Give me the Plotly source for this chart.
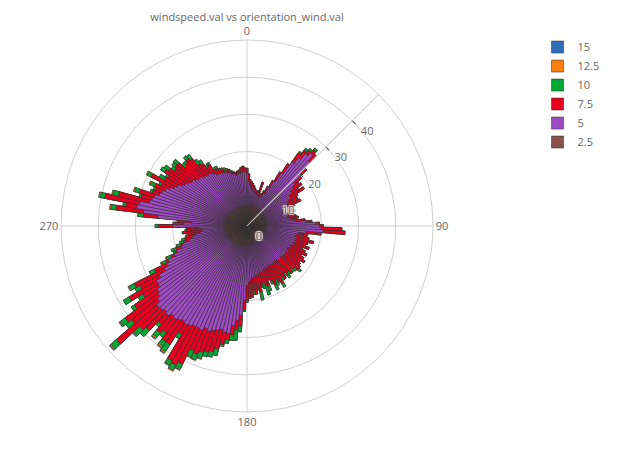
import plotly.graph_objects as go

# direction bins (degrees, 2-degree bins)
direction = list(range(0, 360, 2))

speed_labels = ["15", "12.5", "10", "7.5", "5", "2.5"]
speed_colors = ["#2f6db8", "#ff7f0e", "#00a836", "#e6001f", "#9d4cc4", "#8b5049"]

# cumulative frequency up to each speed class
cum_2_5 = [5.2,4.8,5.5,4.6,5.0,5.8,4.9,5.3,6.0,5.1, 4.7,5.4,5.9,5.0,4.6,5.2,5.7,4.9,5.3,4.8,
           5.1,5.6,4.7,5.0,5.3,4.5,4.9,5.2,4.6,5.0, 5.4,4.8,4.4,5.1,4.7,5.3,4.9,4.5,5.0,4.6,
           5.2,4.8,4.3,4.9,5.4,
           5.0,4.6,5.3,4.4,4.9,5.2,4.5,4.8,5.1,4.3, 4.7,5.0,4.4,4.9,5.3,4.6,4.2,4.8,5.1,4.5,
           4.9,4.3,4.7,5.0,4.4,4.8,5.2,4.6,4.3,4.9, 4.5,5.0,4.7,4.4,4.8,5.1,4.6,4.3,4.9,4.5,
           4.7,5.0,4.4,4.8,4.6,
           4.7,5.1,4.5,4.9,5.4,4.8,5.2,5.6,4.9,5.3, 5.7,5.0,5.4,5.9,5.2,5.6,6.0,5.3,5.7,5.1,
           5.5,6.1,5.4,5.8,5.2,5.6,6.2,5.5,5.9,5.3, 5.7,6.0,5.4,5.8,6.3,5.6,5.9,5.2,5.7,6.1,
           5.5,5.8,6.2,5.6,5.9,
           6.0,5.5,5.9,6.3,5.6,5.8,6.2,5.4,5.9,6.1, 5.5,5.8,6.3,5.7,5.3,5.9,6.1,5.6,5.2,5.8,
           5.5,6.0,5.4,5.1,5.7,5.3,5.6,5.0,5.4,5.8, 5.2,4.9,5.5,5.1,5.6,5.3,4.8,5.2,5.5,5.0,
           5.4,4.9,5.3,5.6,5.1]

cum_5 = [14,12,11,10.5,10, 10,9.5,9,9,8.5, 8.5,8,8.5,9,10, 12,14,17,21,23,
         25,26,24,20,17, 16,15,14,14,13, 12.5,12,12,11.5,11, 12,11,11,11.5,11,
         11.5,12,13,16,18.5,
         19.5,20,20.5,16,14, 13.5,13.2,13.8,13.5,13.6, 13,13.4,12.5,12.9,12.4, 12.5,13,12.3,12.8,12.5,
         12.6,12.2,12.3,12.7,12, 12.2,11.8,12.1,12,12.3, 12,11.9,12.5,12.2,12.6, 12.5,13,12.7,13.1,13.5,
         13.3,14,13.8,14.5,15,
         16,20,24,25.4,27, 29.3,29.1,28.6,29,29.5, 30,29.6,30.5,30.2,30.3, 30.7,31,30.6,31,31.5,
         31.2,32,31.6,32,32.2, 31,30,29.5,28.5,28.4, 27,25,23.8,23,21, 20,18.5,17.9,16,15,
         14,12.7,12,12,13,
         19.8,17,15,24,28, 30,29.5,27,26.5,26, 25,24.5,24,23,22, 21.5,20.5,20,19.5,19,
         19,18.5,18,18,17.5, 17.5,17.3,17.3,17,16.5, 16,16,15.8,15.6,15.6, 15,15,14.5,14.3,14,
         14,14.3,14.3,14.5,14.6]

cum_7_5 = [15.5,14,12.5,12,11.5, 11,10.5,10,9.5,10, 12.5,9,9.5,10.5,12, 14,17,20,24,25.5,
           26.2,27.2,26.5,22,19.5, 18,18.5,17,18.4,16, 15.5,15.5,16,14,13, 13,13.5,12.5,13,13.5,
           14,13.5,15.7,17.5,19.5,
           20.5,25.5,26.4,20,16.5, 16.3,17,18.4,17,16.5, 17.7,16,17,17.8,16.5, 17.5,18.2,17,17.5,18,
           18,17,16.5,17.5,16.5, 17,16,17.5,16.5,18, 17,16.5,17.5,16,15.5, 17,17,16,16.5,18,
           17,18.5,17.5,19,19.5,
           20,22.5,27,28.1,29.5, 31,32.5,34,35,35.5, 36,37,36.5,41,42, 41.5,34,38,38,36,
           37,35,38.5,39.5,46.5, 40,41,37,33.5,37, 33,34,27.5,23.8,22, 20.5,20,18.5,17.5,17,
           16.5,16,17.2,16.3,16,
           23.8,19.5,18.5,28,35.5, 33,39,35.5,29.5,30.3, 27,26.5,27,25.5,29, 25.5,25,26.5,25.8,24.5,
           25,25,23,23.5,24, 23.5,21,20.5,19,19.5, 17.5,17.5,16.8,16.5,16, 16,15.8,15.2,14.8,14.5,
           14.8,15,15.6,16,15.6]

cum_10 = [15.5,14,12.5,12,11.5, 11,10.5,10,9.5,10, 12.5,9,9.5,10.5,12, 14,17,20,24.5,26.2,
          26.8,27.8,26.5,22,19.5, 18,18.5,17,18.4,16, 15.5,15.5,16,14,13, 13,13.5,12.5,13,13.5,
          14,13.5,15.7,17.5,19.5,
          20.5,25.5,26.4,20,16.5, 16.3,17,18.4,17,16.5, 17.7,16,17,17.8,16.5, 17.5,18.2,17,17.5,18,
          18.8,17.8,17.5,17.5,17.3, 18,17,17.5,17.5,19.2, 17.5,18,19,17,15.5, 18.5,19.4,17.5,17,20.3,
          17.5,18.5,18.5,19.3,19.5,
          20.5,23,28.5,30.9,31, 32,33,35.8,36.5,36.8, 37.7,38.5,38.3,42.3,43.5, 42.8,35.4,40.3,39.5,37.5,
          38.6,36,40.7,41.7,48.5, 42,42.7,38,35,38.8, 34.5,35.6,29,24.8,23.3, 21,21.3,19.7,18.6,17.9,
          16.8,16.4,17.5,16.7,16.3,
          24.7,19.9,18.8,29.5,36.9, 33.8,40.3,37.1,30,31.6, 27.6,27,28.3,26.2,30.1, 27,25.6,27.7,27.2,25.5,
          26,26.3,24,24.1,25, 24.8,22.5,21.7,19.7,20, 18,18.1,17.2,17,16.6, 16.4,16,15.4,15,14.7,
          15,15.2,15.8,16.1,15.6]

cum_12_5 = [15.5,14,12.5,12,11.5, 11,10.5,10,9.5,10, 12.5,9,9.5,10.5,12, 14,17,20,24.5,26.2,
            26.8,27.8,26.5,22,19.5, 18,18.5,17,18.4,16, 15.5,15.5,16,14,13, 13,13.5,12.5,13,13.5,
            14,13.5,15.7,17.5,19.5,
            20.5,25.5,26.4,20,16.5, 16.3,17,18.4,17,16.5, 17.7,16,17,17.8,16.5, 17.5,18.2,17,17.5,18,
            18.8,17.8,17.5,17.5,17.3, 18,17,17.5,17.5,19.2, 17.5,18,19,17,15.5, 18.5,19.4,17.5,17,20.3,
            17.5,18.5,18.5,19.3,19.5,
            20.5,23,28.5,30.9,31, 32,33,35.8,36.5,36.8, 37.9,38.7,38.5,42.6,43.8, 43.0,35.4,40.7,39.9,37.5,
            39.0,36,40.7,41.9,48.8, 42,42.9,38,35,38.8, 34.5,35.9,29,25.1,23.5, 21,21.3,19.7,18.6,17.9,
            16.8,16.4,17.5,16.7,16.3,
            24.7,19.9,18.8,29.5,37.2, 33.8,40.6,37.3,30,31.9, 27.6,27,28.6,26.2,30.4, 27,25.6,27.7,27.2,25.5,
            26,26.3,24,24.1,25, 24.8,22.5,21.7,19.7,20, 18,18.1,17.2,17,16.8, 16.4,16,15.4,15,14.7,
            15,15.2,15.8,16.1,15.6]

cum_15 = [15.5,14,12.5,12,11.5, 11,10.5,10,9.5,10, 12.5,9,9.5,10.5,12, 14,17,20,24.5,26.2,
          26.8,27.8,26.5,22,19.5, 18,18.5,17,18.4,16, 15.5,15.5,16,14,13, 13,13.5,12.5,13,13.5,
          14,13.5,15.7,17.5,19.5,
          20.5,25.5,26.4,20,16.5, 16.3,17,18.4,17,16.5, 17.7,16,17,17.8,16.5, 17.5,18.2,17,17.5,18,
          18.8,17.8,17.5,17.5,17.3, 18,17,17.5,17.5,19.2, 17.5,18,19,17,15.5, 18.5,19.4,17.5,17,20.3,
          17.5,18.5,18.5,19.3,19.5,
          20.5,23,28.5,30.9,31, 32,33,35.8,36.5,36.8, 37.9,38.7,38.5,42.85,43.8, 43.0,35.4,40.95,40.15,37.5,
          39.25,36,40.7,42.15,49.05, 42,43.15,38,35,38.8, 34.5,35.9,29,25.35,23.5, 21,21.3,19.7,18.6,17.9,
          16.8,16.4,17.5,16.7,16.3,
          24.7,19.9,18.8,29.5,37.2, 33.8,40.6,37.3,30,31.9, 27.6,27,28.6,26.2,30.4, 27,25.6,27.7,27.2,25.5,
          26,26.3,24,24.1,25, 24.8,22.5,21.7,19.7,20, 18,18.1,17.2,17,16.8, 16.4,16,15.4,15,14.7,
          15,15.2,15.8,16.1,15.6]

series = [cum_15, cum_12_5, cum_10, cum_7_5, cum_5, cum_2_5]

fig = go.Figure()
for label, color, values in zip(speed_labels, speed_colors, series):
    fig.add_trace(go.Barpolar(
        r=values, theta=direction, name=label,
        marker=dict(color=color, line=dict(color="rgb(50,50,50)", width=0.55)),
    ))

grid = "#cfcfcf"
fig.update_layout(
    width=617, height=450,
    paper_bgcolor="white",
    margin=dict(l=61, r=184, t=40, b=38, autoexpand=False),
    title=dict(text="windspeed.val vs orientation_wind.val", xref="paper", x=0.5,
               xanchor="center", y=0.962, yanchor="middle",
               font=dict(size=11, color="#666")),
    font=dict(family="Open Sans, verdana, arial, sans-serif", color="#666", size=11),
    legend=dict(x=1.281, y=1.02, xanchor="left", yanchor="top",
                font=dict(size=11, color="#666"), traceorder="normal"),
    polar=dict(
        barmode="overlay", bargap=0, bgcolor="white",
        angularaxis=dict(direction="clockwise", rotation=90,
                         tickvals=[0, 90, 180, 270], ticks="",
                         gridcolor=grid, linecolor=grid, showline=True,
                         tickfont=dict(size=11, color="#666")),
        radialaxis=dict(range=[0, 50], angle=45, tickangle=45,
                        tickvals=[0, 10, 20, 30, 40],
                        gridcolor=grid, linecolor=grid, showline=True,
                        ticks="outside", ticklen=4, tickcolor="#444",
                        tickfont=dict(size=11, color="#666", shadow="auto")),
    ),
)

fig.write_html("out.html", config={"displayModeBar": False},
               post_script="document.body.style.margin='0';")
